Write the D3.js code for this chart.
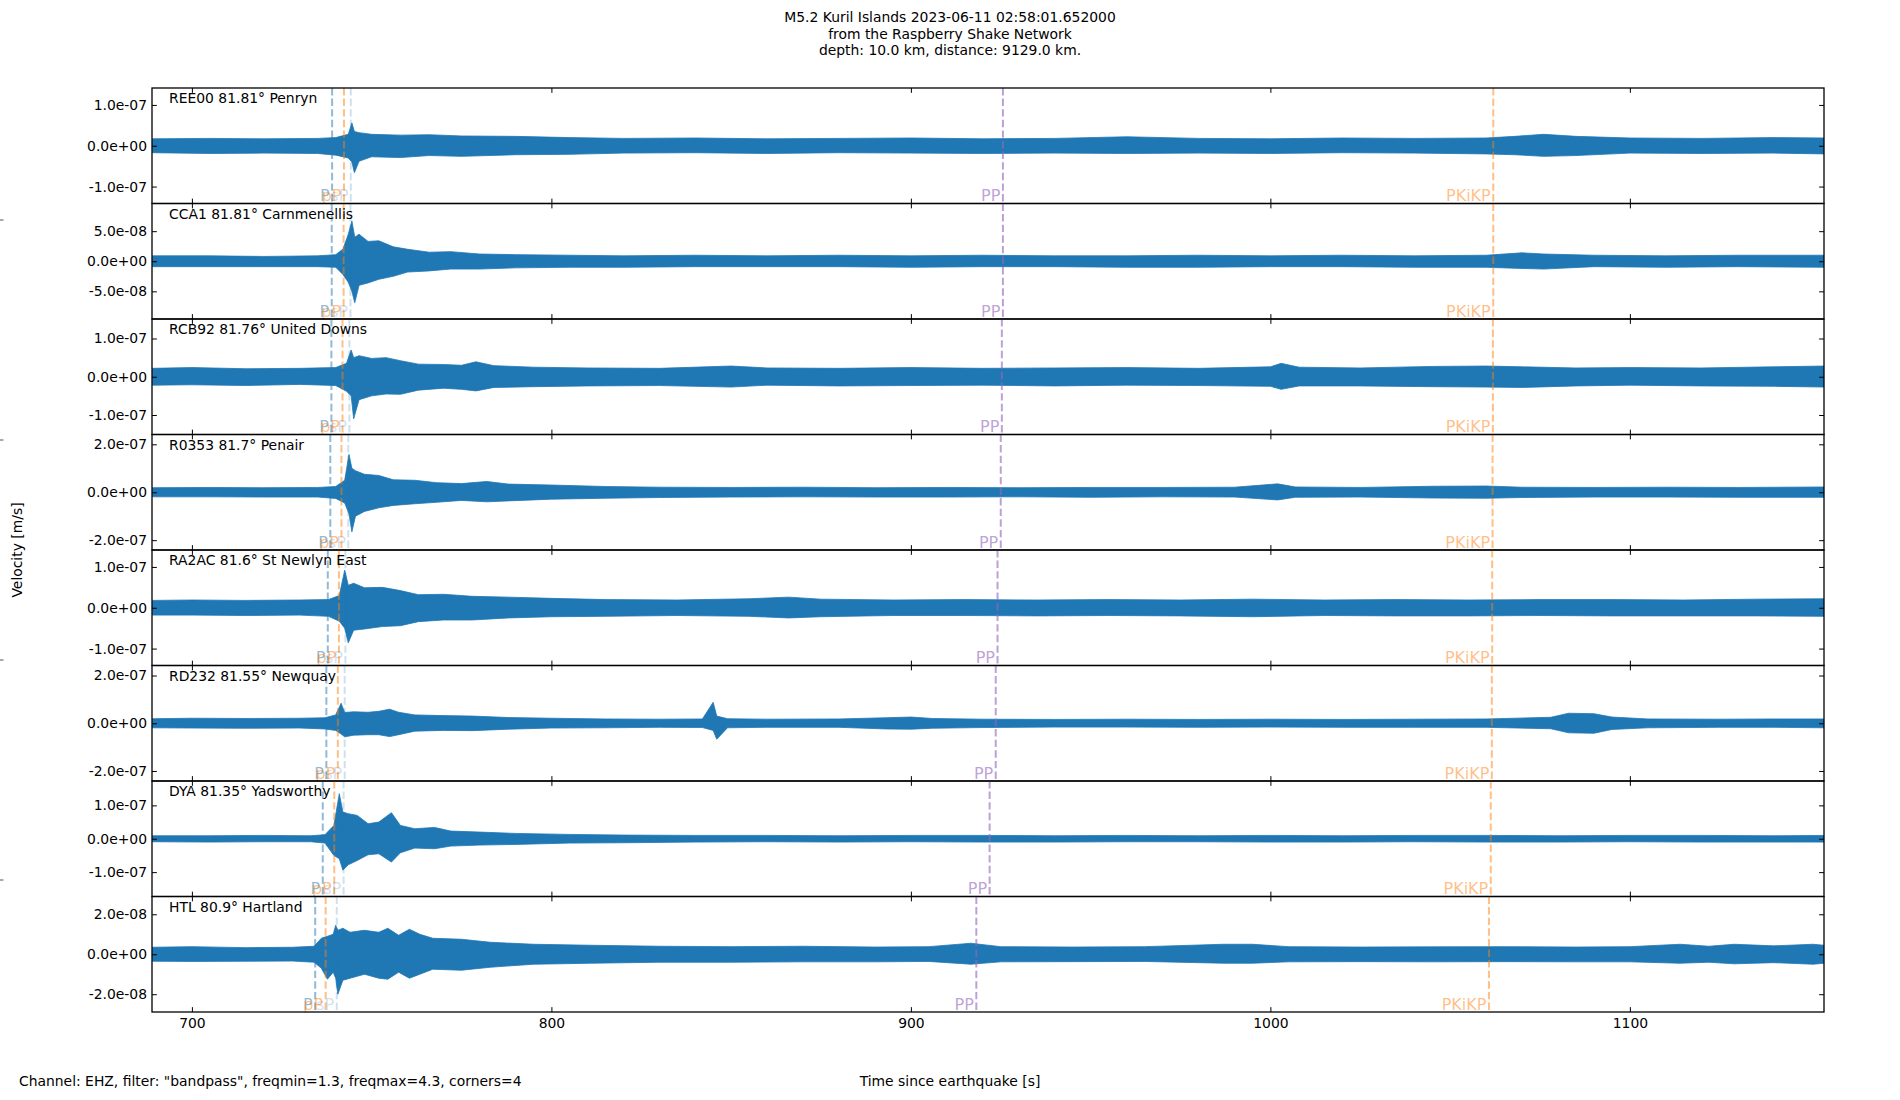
<!DOCTYPE html>
<html>
<head>
<meta charset="utf-8">
<script src="https://cdn.jsdelivr.net/npm/d3@7"></script>
<style>
  body { margin: 0; background: #fff; }
  text { font-family: "DejaVu Sans", sans-serif; }
</style>
</head>
<body>
<script>
// station rows, top to bottom
const stationCodes = ["REE00", "CCA1", "RCB92", "R0353", "RA2AC", "RD232", "DYA", "HTL"];
const distances = [81.81, 81.81, 81.76, 81.7, 81.6, 81.55, 81.35, 80.9];
const places = ["Penryn", "Carnmenellis", "United Downs", "Penair", "St Newlyn East", "Newquay", "Yadsworthy", "Hartland"];

// y range (+/-) and tick step of each row, m/s
const yLimits = [1.415e-7, 9.6e-8, 1.51e-7, 2.41e-7, 1.415e-7, 2.42e-7, 1.73e-7, 2.89e-8];
const yTickSteps = [1e-7, 5e-8, 1e-7, 2e-7, 1e-7, 2e-7, 1e-7, 2e-8];

// time axis
const timeRange = [688.9, 1154.0];
const xTicks = [700, 800, 900, 1000, 1100];

// phase arrivals, seconds since origin
const arrP = [739.0, 738.9, 738.8, 738.5, 737.8, 737.4, 736.4, 734.3];
const arrpP = [742.3, 742.2, 741.9, 741.6, 740.9, 740.6, 739.6, 737.2];
const arrsP = [744.2, 744.1, 743.8, 743.5, 742.7, 742.5, 742.2, 740.3];
const arrPP = [925.6, 925.6, 925.3, 925.0, 924.1, 923.6, 921.9, 918.2];
const arrPKiKP = [1062.0, 1062.0, 1061.9, 1061.8, 1061.7, 1061.6, 1061.3, 1060.8];

// trace envelopes: [time s, upper, lower] in 1e-8 m/s
const ampUnit = 1e-8;
const traceREE00 = [
  [689, 1.7, 1.7], [705, 1.8, 1.9], [720, 1.7, 1.8], [735, 1.8, 1.9], [740, 2.0, 2.3],
  [743.5, 2.8, 3.0], [744.5, 5.6, 4.0], [745.2, 3.5, 6.6], [746.5, 3.2, 3.8], [750, 2.8, 2.7],
  [758, 2.6, 2.9], [766, 2.7, 2.4], [775, 2.4, 2.6], [790, 2.3, 2.2], [805, 2.0, 2.1],
  [820, 1.8, 1.8], [840, 1.9, 1.7], [860, 1.7, 1.9], [880, 1.8, 1.7], [900, 1.9, 1.8],
  [920, 1.7, 1.9], [940, 1.8, 1.8], [960, 2.2, 1.9], [980, 1.8, 1.8], [1000, 1.7, 1.9],
  [1020, 1.9, 1.7], [1040, 1.8, 1.8], [1060, 1.9, 2.0], [1068, 2.3, 2.2], [1076, 2.8, 2.6],
  [1085, 2.3, 2.4], [1100, 1.9, 1.8], [1120, 1.8, 1.9], [1140, 2.0, 1.8], [1154, 1.9, 2.0]
];
const traceCCA1 = [
  [689, 0.9, 0.9], [705, 0.9, 0.9], [720, 0.8, 0.9], [735, 0.9, 0.9], [740, 1.1, 1.0],
  [742, 2.0, 2.2], [743.5, 4.5, 3.5], [744.5, 6.7, 5.0], [745.3, 4.0, 6.9], [746.5, 4.5, 4.0],
  [749, 3.3, 3.6], [752, 3.4, 3.0], [756, 2.4, 2.5], [760, 2.0, 1.8], [766, 1.5, 1.6],
  [772, 1.6, 1.3], [780, 1.2, 1.3], [790, 1.1, 1.1], [805, 1.0, 1.0], [820, 0.9, 1.0],
  [840, 1.0, 0.9], [860, 0.9, 0.9], [880, 1.0, 0.9], [900, 0.9, 1.0], [920, 1.0, 0.9],
  [940, 0.9, 0.9], [960, 0.9, 1.0], [980, 1.0, 1.0], [1000, 0.9, 0.9], [1020, 1.0, 0.9],
  [1040, 0.9, 1.0], [1060, 1.0, 1.0], [1070, 1.4, 1.2], [1076, 1.2, 1.3], [1090, 1.0, 0.9],
  [1110, 0.9, 1.0], [1130, 1.0, 0.9], [1154, 1.0, 1.0]
];
const traceRCB92 = [
  [689, 2.2, 2.2], [700, 2.4, 2.1], [715, 2.1, 2.3], [730, 2.2, 2.0], [740, 2.4, 2.3],
  [743, 3.5, 3.8], [744.3, 7.0, 5.0], [745, 5.0, 11.0], [746.5, 5.5, 6.0], [750, 4.8, 5.0],
  [754, 5.0, 4.5], [758, 4.2, 4.6], [763, 3.3, 3.5], [770, 3.2, 3.0], [775, 3.0, 3.3],
  [779, 3.9, 3.7], [784, 2.9, 2.8], [795, 2.5, 2.6], [810, 2.3, 2.4], [830, 2.2, 2.3],
  [850, 2.8, 2.7], [860, 2.3, 2.2], [880, 2.2, 2.4], [900, 2.4, 2.3], [920, 2.2, 2.2],
  [940, 2.3, 2.4], [960, 2.4, 2.2], [980, 2.2, 2.3], [1000, 2.6, 2.5], [1003, 3.5, 3.3],
  [1008, 2.5, 2.4], [1025, 2.3, 2.4], [1045, 2.7, 2.6], [1060, 2.8, 2.7], [1070, 2.6, 2.8],
  [1085, 2.3, 2.4], [1100, 2.4, 2.2], [1120, 2.3, 2.4], [1140, 2.6, 2.5], [1154, 2.8, 2.7]
];
const traceR0353 = [
  [689, 1.9, 1.9], [705, 2.0, 1.9], [720, 1.9, 2.0], [735, 2.0, 2.0], [740, 2.4, 2.6],
  [742.5, 5.0, 4.5], [743.7, 15.8, 9.0], [744.5, 10.0, 16.5], [745.5, 9.0, 10.0], [748, 7.5, 8.0],
  [752, 7.0, 6.5], [756, 5.2, 5.5], [762, 5.0, 4.8], [768, 4.0, 4.2], [775, 3.6, 3.4],
  [782, 4.5, 4.0], [788, 3.4, 3.6], [800, 3.0, 2.9], [815, 2.4, 2.5], [830, 2.1, 2.2],
  [850, 2.0, 2.0], [870, 2.1, 1.9], [890, 1.9, 2.0], [910, 2.0, 2.0], [930, 1.9, 1.9],
  [950, 2.0, 2.1], [970, 2.0, 1.9], [990, 2.1, 2.0], [1002, 3.5, 3.2], [1007, 2.2, 2.1],
  [1025, 2.0, 2.0], [1045, 2.5, 2.4], [1060, 2.6, 2.5], [1070, 2.1, 2.2], [1090, 2.0, 2.0],
  [1110, 2.1, 2.0], [1130, 2.0, 2.1], [1154, 2.2, 2.1]
];
const traceRA2AC = [
  [689, 1.8, 1.8], [700, 1.9, 1.8], [715, 1.8, 1.9], [730, 1.9, 1.8], [738, 2.0, 2.1],
  [741, 3.0, 3.3], [742.5, 9.2, 5.0], [743.5, 5.5, 8.6], [745, 6.0, 5.5], [748, 4.9, 5.2],
  [753, 5.0, 4.6], [758, 4.2, 4.4], [763, 3.2, 3.4], [770, 3.3, 3.0], [778, 2.8, 3.0],
  [788, 2.6, 2.5], [800, 2.3, 2.2], [815, 2.0, 2.1], [835, 1.9, 1.9], [855, 2.2, 2.1],
  [866, 2.6, 2.5], [875, 2.1, 2.2], [895, 1.9, 1.9], [915, 2.0, 1.9], [935, 1.9, 2.0],
  [955, 2.0, 1.9], [975, 1.9, 2.0], [995, 2.1, 2.2], [1015, 1.9, 1.9], [1035, 2.0, 2.0],
  [1055, 1.9, 2.0], [1075, 2.0, 1.9], [1095, 2.0, 2.0], [1115, 1.9, 2.0], [1135, 2.1, 2.0],
  [1154, 2.2, 2.1]
];
const traceRD232 = [
  [689, 1.9, 1.9], [700, 2.1, 2.0], [715, 2.0, 2.1], [730, 2.1, 2.0], [737, 2.3, 2.4],
  [740, 3.5, 3.0], [741.5, 8.4, 4.5], [742.5, 4.5, 5.7], [745, 4.8, 5.0], [749, 4.6, 4.8],
  [752, 5.0, 4.8], [755, 5.9, 5.6], [757.5, 4.6, 4.8], [762, 3.5, 3.3], [770, 3.2, 3.0],
  [778, 3.0, 3.1], [788, 2.4, 2.5], [800, 2.1, 2.0], [815, 1.8, 1.9], [830, 1.7, 1.7],
  [842, 1.8, 1.8], [845, 8.8, 3.0], [846, 3.0, 6.7], [849, 1.9, 1.9], [860, 1.7, 1.7],
  [880, 1.8, 1.7], [893, 2.3, 2.4], [900, 2.6, 2.5], [906, 2.0, 2.1], [920, 1.7, 1.8],
  [940, 1.6, 1.6], [960, 1.7, 1.6], [980, 1.6, 1.7], [1000, 1.7, 1.6], [1020, 1.6, 1.7],
  [1040, 1.7, 1.7], [1060, 1.8, 1.7], [1078, 2.5, 2.3], [1083, 4.2, 4.0], [1090, 4.0, 4.2],
  [1095, 2.6, 2.6], [1105, 1.8, 1.9], [1125, 1.7, 1.7], [1140, 1.8, 1.7], [1154, 1.8, 1.9]
];
const traceDYA = [
  [689, 0.9, 0.9], [705, 0.9, 1.0], [720, 1.0, 0.9], [733, 0.9, 0.9], [737, 1.2, 1.3],
  [739.5, 4.0, 5.0], [741, 13.5, 6.0], [742, 8.0, 9.4], [743.5, 7.5, 7.8], [746, 7.0, 6.5],
  [749, 4.5, 4.8], [752, 5.0, 4.5], [755.5, 7.8, 7.0], [758, 4.0, 4.2], [762, 3.0, 2.8],
  [767.5, 3.4, 3.0], [772, 2.3, 2.2], [780, 2.0, 1.9], [790, 1.6, 1.7], [805, 1.3, 1.3],
  [820, 1.1, 1.2], [840, 1.0, 1.0], [860, 1.0, 0.9], [880, 0.9, 1.0], [900, 1.0, 0.9],
  [920, 1.0, 1.0], [940, 0.9, 1.0], [960, 1.0, 0.9], [980, 0.9, 0.9], [1000, 1.0, 1.0],
  [1020, 0.9, 1.0], [1040, 1.0, 0.9], [1060, 1.0, 1.0], [1080, 0.9, 1.0], [1100, 1.0, 0.9],
  [1120, 1.0, 1.0], [1140, 0.9, 1.0], [1154, 1.0, 1.0]
];
const traceHTL = [
  [689, 0.35, 0.35], [700, 0.38, 0.36], [715, 0.33, 0.35], [728, 0.35, 0.34], [734, 0.4, 0.4],
  [736, 0.8, 0.7], [737.7, 0.9, 1.25], [739.3, 1.0, 0.9], [740, 1.45, 1.2], [740.6, 1.2, 2.0],
  [742, 1.3, 1.3], [744, 1.1, 1.2], [748, 1.2, 1.0], [752, 1.1, 1.2], [754.5, 1.3, 1.25],
  [757.5, 0.95, 0.9], [760.5, 1.25, 1.2], [763.4, 1.0, 1.0], [767, 0.8, 0.75], [775, 0.75, 0.8],
  [783, 0.6, 0.65], [795, 0.5, 0.5], [811, 0.45, 0.45], [830, 0.4, 0.4], [850, 0.38, 0.4],
  [870, 0.4, 0.38], [890, 0.36, 0.38], [905, 0.38, 0.36], [916.7, 0.55, 0.5], [925, 0.38, 0.38],
  [945, 0.36, 0.37], [965, 0.38, 0.36], [987, 0.5, 0.45], [995, 0.5, 0.45], [1005, 0.38, 0.38],
  [1025, 0.36, 0.37], [1045, 0.37, 0.38], [1065, 0.38, 0.37], [1085, 0.36, 0.38], [1100, 0.38, 0.38],
  [1114, 0.5, 0.45], [1122, 0.4, 0.4], [1129, 0.5, 0.48], [1140, 0.42, 0.42], [1151, 0.5, 0.5],
  [1154, 0.45, 0.45]
];
const traces = [traceREE00, traceCCA1, traceRCB92, traceR0353, traceRA2AC, traceRD232, traceDYA, traceHTL];

const titleLines = [
  "M5.2 Kuril Islands 2023-06-11 02:58:01.652000",
  "from the Raspberry Shake Network",
  "depth: 10.0 km, distance: 9129.0 km."
];

const width = 1900;
const height = 1100;
const plot = { left: 152, right: 1824, top: 88, bottom: 1012 };
const rowH = (plot.bottom - plot.top) / stationCodes.length;
const tickLen = 4.86;
const fontSize = 13.9;

// phase line styles
const phases = [
  { name: "P", times: arrP, color: "#1f77b4", opacity: 0.5 },
  { name: "pP", times: arrpP, color: "#ff7f0e", opacity: 0.5 },
  { name: "sP", times: arrsP, color: "#1f77b4", opacity: 0.22 },
  { name: "PP", times: arrPP, color: "#9467bd", opacity: 0.62 },
  { name: "PKiKP", times: arrPKiKP, color: "#ff7f0e", opacity: 0.5 }
];

const svg = d3.select("body").append("svg")
  .attr("width", width)
  .attr("height", height);

const x = d3.scaleLinear().domain(timeRange).range([plot.left, plot.right]);

// 1.0e-07 style labels
function expFormat(v) {
  const parts = v.toExponential(1).split("e");
  const sign = parts[1][0] === "-" ? "-" : "+";
  const n = Math.abs(+parts[1]);
  return parts[0] + "e" + sign + String(n).padStart(2, "0");
}

const defs = svg.append("defs");

stationCodes.forEach((code, i) => {
  const top = plot.top + i * rowH;
  const bottom = top + rowH;
  const y = d3.scaleLinear().domain([-yLimits[i], yLimits[i]]).range([bottom, top]);

  defs.append("clipPath").attr("id", "clip" + i)
    .append("rect")
    .attr("x", plot.left).attr("y", top)
    .attr("width", plot.right - plot.left).attr("height", rowH);

  const g = svg.append("g");

  // trace band
  const area = d3.area()
    .x(d => x(d[0]))
    .y0(d => y(-d[2] * ampUnit))
    .y1(d => y(d[1] * ampUnit));

  g.append("path")
    .datum(traces[i])
    .attr("clip-path", "url(#clip" + i + ")")
    .attr("d", area)
    .attr("fill", "#1f77b4")
    .attr("stroke", "#1f77b4")
    .attr("stroke-width", 0.8);

  // phase arrivals
  phases.forEach(p => {
    const px = x(p.times[i]);
    g.append("line")
      .attr("x1", px).attr("x2", px)
      .attr("y1", top).attr("y2", bottom)
      .attr("stroke", p.color)
      .attr("stroke-opacity", p.opacity)
      .attr("stroke-width", 2)
      .attr("stroke-dasharray", "7.4,3.2");
    g.append("text")
      .attr("x", px - 2.5)
      .attr("y", bottom - 2.5)
      .attr("text-anchor", "end")
      .attr("font-size", 16)
      .attr("fill", p.color)
      .attr("fill-opacity", p.opacity)
      .text(p.name);
  });

  // axes
  const yTicks = [-yTickSteps[i], 0, yTickSteps[i]];
  g.append("g")
    .attr("transform", `translate(${plot.left},0)`)
    .call(d3.axisLeft(y).tickValues(yTicks).tickSizeInner(-tickLen).tickSizeOuter(0)
      .tickPadding(5).tickFormat(expFormat))
    .call(a => a.select(".domain").remove())
    .call(a => a.selectAll("text").attr("font-size", fontSize).attr("font-family", "DejaVu Sans").attr("fill", "#000"));

  g.append("g")
    .attr("transform", `translate(${plot.right},0)`)
    .call(d3.axisRight(y).tickValues(yTicks).tickSizeInner(-tickLen).tickSizeOuter(0).tickFormat(""))
    .call(a => a.select(".domain").remove());

  g.append("g")
    .attr("transform", `translate(0,${top})`)
    .call(d3.axisTop(x).tickValues(xTicks).tickSizeInner(-tickLen).tickSizeOuter(0).tickFormat(""))
    .call(a => a.select(".domain").remove());

  const isLast = i === stationCodes.length - 1;
  g.append("g")
    .attr("transform", `translate(0,${bottom})`)
    .call(d3.axisBottom(x).tickValues(xTicks).tickSizeInner(-tickLen).tickSizeOuter(0)
      .tickPadding(6).tickFormat(isLast ? d3.format("d") : ""))
    .call(a => a.select(".domain").remove())
    .call(a => a.selectAll("text").attr("font-size", fontSize).attr("font-family", "DejaVu Sans").attr("fill", "#000"));

  g.selectAll(".tick line").attr("stroke", "#000").attr("stroke-width", 1);

  // frame
  g.append("rect")
    .attr("x", plot.left).attr("y", top)
    .attr("width", plot.right - plot.left).attr("height", rowH)
    .attr("fill", "none")
    .attr("stroke", "#000")
    .attr("stroke-width", 1.3);

  // station label
  g.append("text")
    .attr("x", plot.left + 17)
    .attr("y", top + 15)
    .attr("font-size", fontSize)
    .attr("fill", "#000")
    .text(`${code} ${distances[i]}° ${places[i]}`);
});

// title
svg.append("text")
  .attr("text-anchor", "middle")
  .attr("font-size", fontSize)
  .selectAll("tspan")
  .data(titleLines)
  .join("tspan")
  .attr("x", width / 2)
  .attr("y", (d, k) => 22 + k * 16.5)
  .text(d => d);

// y label
svg.append("text")
  .attr("transform", "translate(22,550) rotate(-90)")
  .attr("text-anchor", "middle")
  .attr("font-size", fontSize)
  .text("Velocity [m/s]");

// footer texts
svg.append("text")
  .attr("x", 19)
  .attr("y", 1086)
  .attr("font-size", fontSize)
  .text('Channel: EHZ, filter: "bandpass", freqmin=1.3, freqmax=4.3, corners=4');

svg.append("text")
  .attr("x", width / 2)
  .attr("y", 1086)
  .attr("text-anchor", "middle")
  .attr("font-size", fontSize)
  .text("Time since earthquake [s]");

// stray tick marks of the hidden figure axis at the left edge
svg.append("g")
  .selectAll("line")
  .data([0.2, 0.4, 0.6, 0.8])
  .join("line")
  .attr("x1", 0).attr("x2", 3.5)
  .attr("y1", d => height * d).attr("y2", d => height * d)
  .attr("stroke", "#555")
  .attr("stroke-width", 1);
</script>
</body>
</html>
